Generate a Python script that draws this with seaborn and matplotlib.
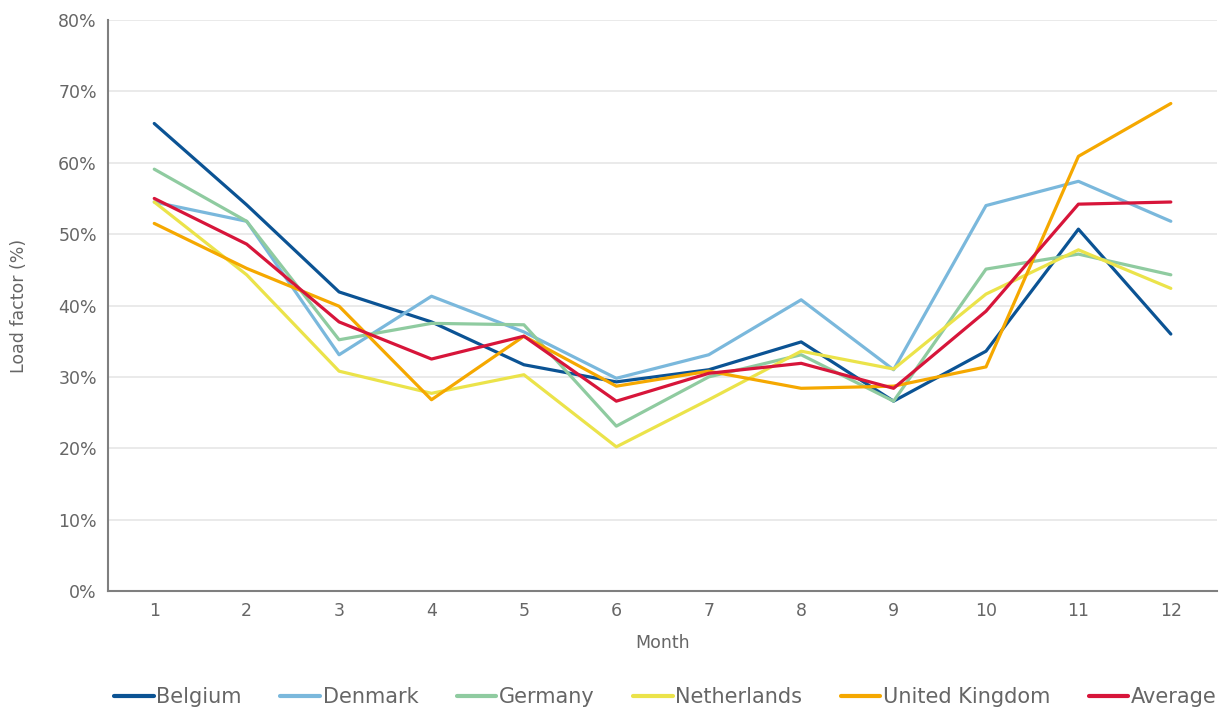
import numpy as np
import pandas as pd
import matplotlib
matplotlib.use("Agg")
import matplotlib.pyplot as plt
import seaborn as sns
from matplotlib.ticker import FuncFormatter
from matplotlib.lines import Line2D

months = list(range(1, 13))
belgium = [65.5, 54.1, 41.9, 37.7, 31.7, 29.3, 31.0, 34.9, 26.6, 33.6, 50.7, 36.0]
denmark = [54.5, 51.8, 33.1, 41.3, 36.3, 29.8, 33.1, 40.8, 31.0, 54.0, 57.4, 51.8]
germany = [59.1, 51.8, 35.2, 37.5, 37.3, 23.1, 30.0, 33.1, 26.6, 45.1, 47.2, 44.3]
netherlands = [54.5, 44.3, 30.8, 27.7, 30.3, 20.2, 26.8, 33.6, 31.1, 41.6, 47.8, 42.4]
united_kingdom = [51.5, 45.2, 39.9, 26.8, 35.7, 28.7, 30.8, 28.4, 28.7, 31.4, 60.9, 68.3]
average = [55.0, 48.6, 37.7, 32.5, 35.7, 26.6, 30.5, 31.9, 28.4, 39.2, 54.2, 54.5]

series_names = ["Belgium", "Denmark", "Germany", "Netherlands", "United Kingdom", "Average"]
series_values = [belgium, denmark, germany, netherlands, united_kingdom, average]
colors = ["#0b5394", "#7ab8dc", "#8fcba0", "#ebe34a", "#f5a800", "#d7153a"]

rows = []
for name, vals in zip(series_names, series_values):
    for m, v in zip(months, vals):
        rows.append({"Month": m, "Load": v / 100.0, "Series": name})
df = pd.DataFrame(rows)

sns.set_theme(style="white")
plt.rcParams['font.family'] = ['DejaVu Sans']

fig = plt.figure(figsize=(12.25, 7.09), dpi=100)
ax = fig.add_axes([0.0882, 0.1664, 0.9053, 0.8054])

sns.lineplot(data=df, x="Month", y="Load", hue="Series", hue_order=series_names,
             palette=colors, linewidth=2.3, ax=ax, legend=False)

ax.set_xlim(0.5, 12.5)
ax.set_ylim(0, 0.8)
ax.set_xticks(months)
ax.set_xticklabels([str(m) for m in months])
ax.set_yticks(np.arange(0, 0.81, 0.1))
ax.yaxis.set_major_formatter(FuncFormatter(lambda v, p: f"{int(round(v*100))}%"))
ax.grid(axis="y", color="#e6e6e6", linewidth=1.2)
ax.set_axisbelow(True)
for s in ["top", "right"]:
    ax.spines[s].set_visible(False)
for s in ["left", "bottom"]:
    ax.spines[s].set_color("#7f7f7f")
    ax.spines[s].set_linewidth(1.5)
ax.tick_params(axis="both", length=0, labelsize=12.5, colors="#666666", pad=8)
ax.set_xlabel("Month", fontsize=12.5, color="#666666", labelpad=10)
ax.set_ylabel("Load factor (%)", fontsize=12.5, color="#666666", labelpad=22)

handles = [Line2D([0], [0], color=c, linewidth=3) for c in colors]
fig.legend(handles, series_names, loc="lower left", bbox_to_anchor=(0.078, -0.024),
           ncol=6, frameon=False, fontsize=15, handlelength=1.9, handletextpad=0.12,
           columnspacing=1.85, labelcolor="#666666")

fig.savefig("out.png", dpi=100)
